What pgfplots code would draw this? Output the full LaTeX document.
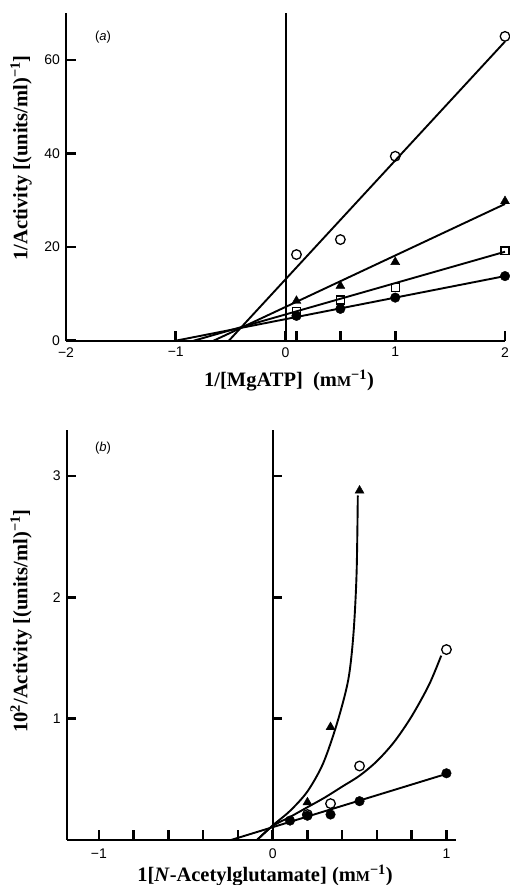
\documentclass[border=0pt]{standalone}
\usepackage{pgfplots}
\pgfplotsset{compat=1.18}
\usepackage{fontspec}
\setmainfont{Liberation Serif}
\setsansfont{Liberation Sans}
\pgfplotsset{
  panel/.style={
    scale only axis, clip=false,
    axis x line=bottom, axis y line=left,
    axis line style={line width=2pt, -},
    tick align=inside,
    major tick length=9.5pt,
    major tick style={black, line width=2.6pt},
    ticklabel style={font=\sffamily\fontsize{14}{14}\selectfont},
    yticklabel style={xshift=-2.5pt},
  },
  ln/.style={no marks, black, line width=1.9pt},
  oc/.style={only marks, mark=o, mark size=4.8pt, mark options={line width=1.3pt, fill=white}},
  fc/.style={only marks, mark=*, mark size=4.8pt},
  tr/.style={only marks, mark=triangle*, mark size=5.2pt},
  sq/.style={only marks, mark=square, mark size=3.9pt, mark options={line width=1.3pt, fill=white}},
}
\begin{document}
\begin{tikzpicture}
\path[use as bounding box] (0pt,0pt) rectangle (510pt,885pt);

% ---------------- panel (a)
\begin{axis}[panel, anchor=south west, at={(66pt,544.3pt)}, width=439pt, height=327.7pt,
  xmin=-2, xmax=2, ymin=0, ymax=70,
  xticklabel style={yshift=-3pt},
  xtick={-2,-1,0,0.1,0.5,1,2}, xticklabels={−2,−1,0,{},{},1,2},
  ytick={0,20,40,60}, yticklabels={0,20,40,60}]
  \addplot[ln, line width=2pt] coordinates {(0,0) (0,70)};
  % fitted lines
  \addplot[ln] coordinates {(-0.516,0) (2,63.9)};
  \addplot[ln] coordinates {(-0.655,0) (2,29.2)};
  \addplot[ln] coordinates {(-0.836,0) (2,19.0)};
  \addplot[ln] coordinates {(-1.0,0) (2,13.8)};
  % data
  \addplot[oc] coordinates {(0.1,18.4) (0.5,21.6) (1,39.4) (2,65.0)};
  \addplot[tr] coordinates {(0.1,8.5) (0.5,11.7) (1,16.8) (2,29.8)};
  \addplot[sq] coordinates {(0.1,6.2) (0.5,8.7) (1,11.4) (2,19.2)};
  \addplot[fc] coordinates {(0.1,5.3) (0.5,6.8) (1,9.2) (2,13.8)};
\end{axis}

% ---------------- panel (b)
\begin{axis}[panel, anchor=south west, at={(66.7pt,45pt)}, width=389.3pt, height=410pt,
  xmin=-1.185, xmax=1.055, ymin=0, ymax=3.38,
  xticklabel style={yshift=-5pt},
  xtick={-1,-0.8,-0.6,-0.4,-0.2,0,0.2,0.4,0.6,0.8,1},
  xticklabels={−1,{},{},{},{},0,{},{},{},{},1},
  ytick={1,2,3}, yticklabels={1,2,3}]
  \addplot[ln, line width=2pt] coordinates {(0,0) (0,3.38)};
  \draw[line width=2.6pt] (axis cs:0,1) -- (axis cs:0.055,1);
  \draw[line width=2.6pt] (axis cs:0,2) -- (axis cs:0.055,2);
  \draw[line width=2.6pt] (axis cs:0,3) -- (axis cs:0.055,3);
  % fitted line and curves
  \addplot[ln] coordinates {(-0.24,0) (1,0.545)};
  \addplot[ln, smooth, tension=0.5] coordinates {(-0.09,0) (0,0.115) (0.1,0.19) (0.2,0.27) (0.3,0.35) (0.4,0.44) (0.5,0.53) (0.6,0.65) (0.7,0.81) (0.8,1.02) (0.9,1.28) (0.97,1.52)};
  \addplot[ln, smooth, tension=0.5] coordinates {(-0.09,0) (0,0.12) (0.1,0.24) (0.2,0.40) (0.29,0.63) (0.37,0.96) (0.435,1.32) (0.465,1.7) (0.483,2.2) (0.49,2.84)};
  % data
  \addplot[fc] coordinates {(0.1,0.16) (0.2,0.20) (0.333,0.21) (0.5,0.32) (1,0.55)};
  \addplot[oc] coordinates {(0.2,0.21) (0.333,0.30) (0.5,0.61) (1,1.57)};
  \addplot[tr] coordinates {(0.2,0.31) (0.333,0.93) (0.5,2.88)};
\end{axis}

% labels
\node[font=\sffamily\fontsize{13}{13}\selectfont] at (103pt,848pt) {(\textit{a})};
\node[font=\sffamily\fontsize{13}{13}\selectfont] at (103pt,437pt) {(\textit{b})};
\node[anchor=base, font=\bfseries\fontsize{20.5}{20.5}\selectfont] at (289pt,498.3pt) {1/[MgATP]\ \ (m{\fontsize{15}{15}\selectfont M}\textsuperscript{−1})};
\node[rotate=90, font=\bfseries\fontsize{20.5}{20.5}\selectfont] at (21pt,727pt) {1/Activity [(units/ml)\textsuperscript{−1}]};
\node[rotate=90, font=\bfseries\fontsize{20.5}{20.5}\selectfont] at (21pt,264pt) {10\textsuperscript{2}/Activity [(units/ml)\textsuperscript{−1}]};
\node[anchor=base, font=\bfseries\fontsize{20.5}{20.5}\selectfont] at (265pt,3pt) {1[\textit{N}-Acetylglutamate] (m{\fontsize{15}{15}\selectfont M}\textsuperscript{−1})};
\end{tikzpicture}
\end{document}
